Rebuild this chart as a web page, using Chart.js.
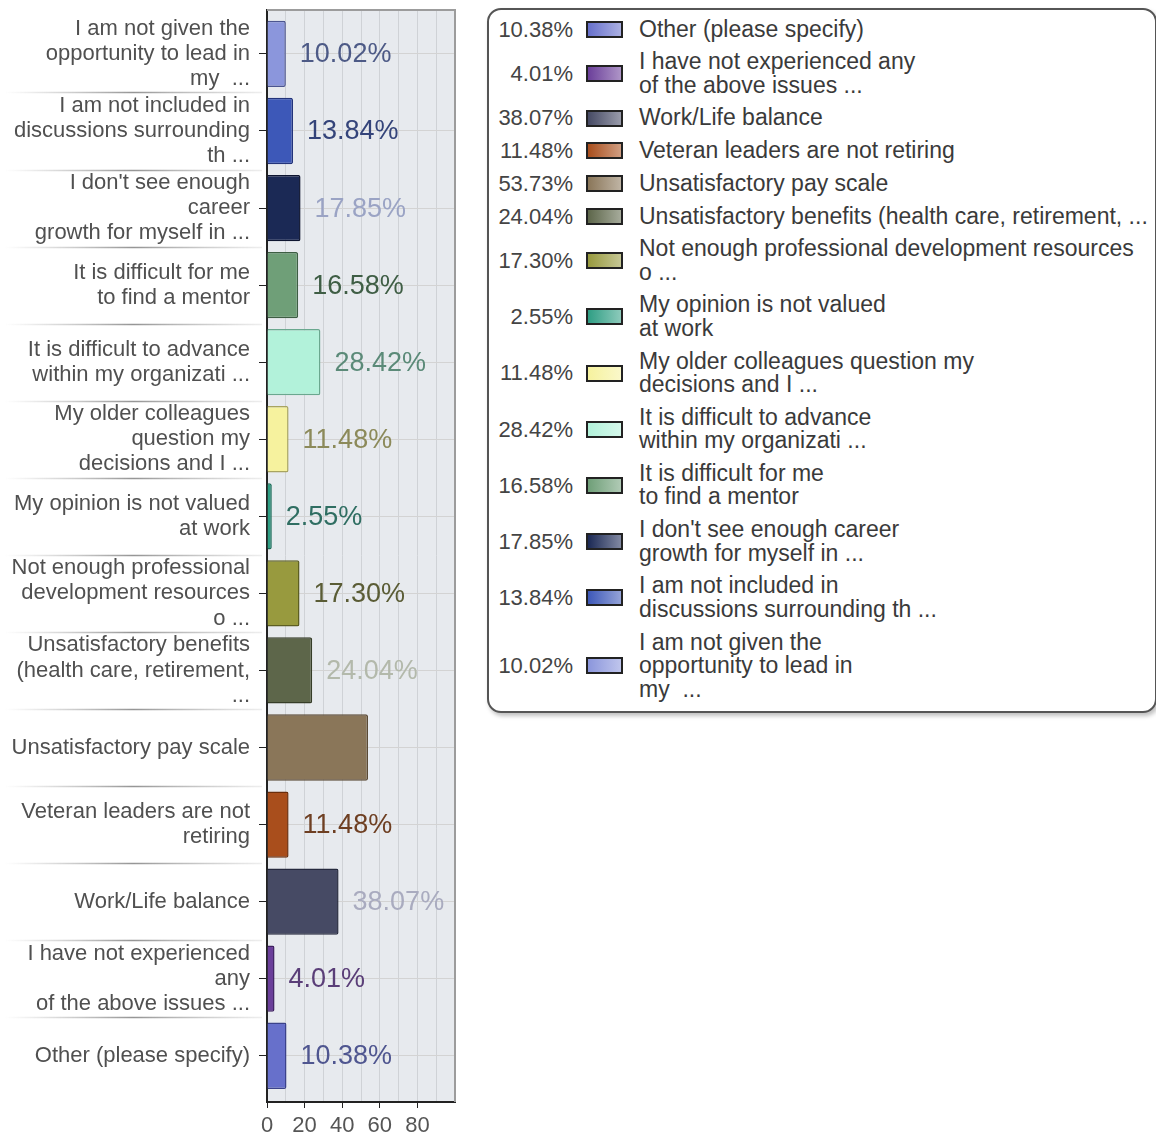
<!DOCTYPE html>
<html>
<head>
<meta charset="utf-8">
<script src="https://cdn.jsdelivr.net/npm/chart.js@4.4.1/dist/chart.umd.min.js"></script>
<style>
  body { margin: 0; background: #fff; overflow: hidden; font-family: "Liberation Sans", Arial, sans-serif; }
  #chartBox { position: absolute; left: 0; top: 0; width: 470px; height: 1135px; }
  #legend {
    position: absolute; left: 487px; top: 8px; width: 666px; height: 698px;
    border: 2px solid #555; border-radius: 14px; background: #fff;
    box-shadow: 2px 3px 4px rgba(0,0,0,0.25); padding-top: 3px; box-sizing: content-box;
  }
  .row { display: flex; align-items: center; padding: 4.6px 0; }
  .val { width: 84px; text-align: right; font-size: 22px; line-height: 23.5px; color: #444; }
  .sw { width: 33px; height: 13px; border: 2px solid #222; margin-left: 13px; }
  .lab { margin-left: 16px; font-size: 23px; line-height: 23.5px; color: #3a3a3a; white-space: pre; }
</style>
</head>
<body>
<div id="chartBox"><canvas id="surveyChart" width="470" height="1135"></canvas></div>
<div id="legend"></div>
<script>
// --- datos ---
const categories = [
  ["I am not given the", "opportunity to lead in", "my  ..."],
  ["I am not included in", "discussions surrounding", "th ..."],
  ["I don't see enough", "career", "growth for myself in ..."],
  ["It is difficult for me", "to find a mentor"],
  ["It is difficult to advance", "within my organizati ..."],
  ["My older colleagues", "question my", "decisions and I ..."],
  ["My opinion is not valued", "at work"],
  ["Not enough professional", "development resources", "o ..."],
  ["Unsatisfactory benefits", "(health care, retirement,", "..."],
  "Unsatisfactory pay scale",
  ["Veteran leaders are not", "retiring"],
  "Work/Life balance",
  ["I have not experienced", "any", "of the above issues ..."],
  "Other (please specify)"
];

const legendLabels = [
  ["I am not given the", "opportunity to lead in", "my  ..."],
  ["I am not included in", "discussions surrounding th ..."],
  ["I don't see enough career", "growth for myself in ..."],
  ["It is difficult for me", "to find a mentor"],
  ["It is difficult to advance", "within my organizati ..."],
  ["My older colleagues question my", "decisions and I ..."],
  ["My opinion is not valued", "at work"],
  ["Not enough professional development resources", "o ..."],
  ["Unsatisfactory benefits (health care, retirement, ..."],
  ["Unsatisfactory pay scale"],
  ["Veteran leaders are not retiring"],
  ["Work/Life balance"],
  ["I have not experienced any", "of the above issues ..."],
  ["Other (please specify)"]
];

const percentages = [10.02, 13.84, 17.85, 16.58, 28.42, 11.48, 2.55, 17.30, 24.04, 53.73, 11.48, 38.07, 4.01, 10.38];

const xTickLabels = [0, 20, 40, 60, 80];

// --- colores ---
const barColors = ['#8b96dc', '#3d58b8', '#1b2955', '#6f9f78', '#b2f2da', '#f6f29e', '#2f9e84',
                   '#989a3e', '#5d664a', '#8a7659', '#a94e1c', '#464a64', '#6b3f9a', '#6770cb'];
const barBorders = ['#4b5590', '#23347a', '#0e1530', '#3d5e43', '#6aa88f', '#a8a460', '#1c6b58',
                    '#5c5e22', '#363d28', '#5a4a35', '#6b2e0c', '#262a3e', '#3e2060', '#3b428a'];
const valueColors = ['#4d5a86', '#34447a', '#9aa3c4', '#3f5e45', '#5b8a78', '#8c8a5a', '#2f6e62',
                     '#5a5c35', '#b3b9ab', '#6b5c48', '#6e3f22', '#a9abbf', '#5a3e78', '#4f5690'];

const FONT = '"Liberation Sans", Arial, sans-serif';
Chart.defaults.font.family = FONT;

function lighten(hex, amt) {
  const n = parseInt(hex.slice(1), 16);
  const c = [n >> 16, (n >> 8) & 255, n & 255].map(v => Math.round(v + (255 - v) * amt));
  return 'rgb(' + c.join(',') + ')';
}

// fondo y marco del área
const framePlugin = {
  id: 'frame',
  beforeDraw(chart) {
    const { ctx, chartArea: a } = chart;
    ctx.save();
    ctx.fillStyle = '#e7eaee';
    ctx.fillRect(a.left, a.top, a.width, a.height);
    ctx.restore();
  },
  afterDraw(chart) {
    const { ctx, chartArea: a, scales } = chart;
    ctx.save();
    ctx.strokeStyle = '#9c9c9c';
    ctx.lineWidth = 2;
    ctx.beginPath();
    ctx.moveTo(a.left, a.top);
    ctx.lineTo(a.right, a.top);
    ctx.lineTo(a.right, a.bottom);
    ctx.stroke();
    // separadores entre categorías
    const y = scales.y;
    for (let i = 0; i < categories.length - 1; i++) {
      const py = Math.round(y.getPixelForValue(i + 0.5)) + 0.5;
      const g = ctx.createLinearGradient(5, 0, 262, 0);
      g.addColorStop(0, 'rgba(160,160,160,0)');
      g.addColorStop(0.5, 'rgba(130,130,130,0.85)');
      g.addColorStop(1, 'rgba(170,170,170,0.2)');
      ctx.strokeStyle = g;
      ctx.lineWidth = 1.5;
      ctx.beginPath();
      ctx.moveTo(5, py);
      ctx.lineTo(262, py);
      ctx.stroke();
    }
    ctx.restore();
  }
};

// etiquetas de valor
const valueLabelPlugin = {
  id: 'valueLabels',
  afterDatasetsDraw(chart) {
    const { ctx, chartArea: a } = chart;
    const meta = chart.getDatasetMeta(0);
    ctx.save();
    ctx.font = '27px ' + FONT;
    ctx.textBaseline = 'middle';
    ctx.textAlign = 'left';
    meta.data.forEach((bar, i) => {
      const txt = percentages[i].toFixed(2) + '%';
      const x = bar.x + 14;
      if (x + ctx.measureText(txt).width > a.right) return;
      ctx.fillStyle = valueColors[i];
      ctx.fillText(txt, x, bar.y + 1);
    });
    ctx.restore();
  }
};

new Chart(document.getElementById('surveyChart'), {
  type: 'bar',
  data: {
    labels: categories.map((_, i) => i),
    datasets: [{
      data: percentages,
      backgroundColor: barColors,
      borderColor: barBorders,
      borderWidth: 1.5,
      borderRadius: 2,
      borderSkipped: 'start',
      barPercentage: 0.86,
      categoryPercentage: 1
    }]
  },
  options: {
    indexAxis: 'y',
    responsive: false,
    animation: false,
    layout: { padding: { top: 10, right: 15, left: 0, bottom: 0 } },
    scales: {
      x: {
        type: 'linear',
        min: 0,
        max: 100,
        ticks: {
          stepSize: 10,
          autoSkip: false,
          maxRotation: 0,
          padding: 5,
          color: '#555',
          font: { size: 22 },
          callback: v => xTickLabels.includes(v) ? String(v) : ''
        },
        grid: {
          color: '#cfd2d6',
          tickLength: 6,
          tickColor: c => (c.tick && xTickLabels.includes(c.tick.value)) ? '#222' : 'rgba(0,0,0,0)'
        },
        border: { color: '#222', width: 2 },
        afterFit(s) { s.height = 33; s.paddingLeft = 0; s.paddingRight = 0; }
      },
      y: {
        type: 'linear',
        reverse: true,
        offset: false,
        min: -0.57,
        max: 13.6,
        ticks: {
          stepSize: 1,
          includeBounds: false,
          autoSkip: false,
          padding: 9,
          color: '#505050',
          font: { size: 22, lineHeight: 1.14 },
          callback: v => Number.isInteger(v) ? categories[v] : ''
        },
        grid: { offset: false, color: '#d3d3d3', tickLength: 8, tickColor: '#222' },
        border: { color: '#222', width: 2 },
        afterFit(s) { s.width = 267; s.paddingTop = 0; s.paddingBottom = 0; }
      }
    },
    plugins: {
      legend: { display: false },
      title: { display: false },
      tooltip: { enabled: false }
    }
  },
  plugins: [framePlugin, valueLabelPlugin]
});

// --- leyenda (orden inverso) ---
const legendEl = document.getElementById('legend');
for (let i = categories.length - 1; i >= 0; i--) {
  const row = document.createElement('div');
  row.className = 'row';
  const val = document.createElement('span');
  val.className = 'val';
  val.textContent = percentages[i].toFixed(2) + '%';
  const sw = document.createElement('span');
  sw.className = 'sw';
  sw.style.background = 'linear-gradient(90deg,' + barColors[i] + ',' + lighten(barColors[i], 0.45) + ')';
  const lab = document.createElement('span');
  lab.className = 'lab';
  lab.textContent = legendLabels[i].join('\n');
  row.append(val, sw, lab);
  legendEl.appendChild(row);
}
</script>
</body>
</html>
